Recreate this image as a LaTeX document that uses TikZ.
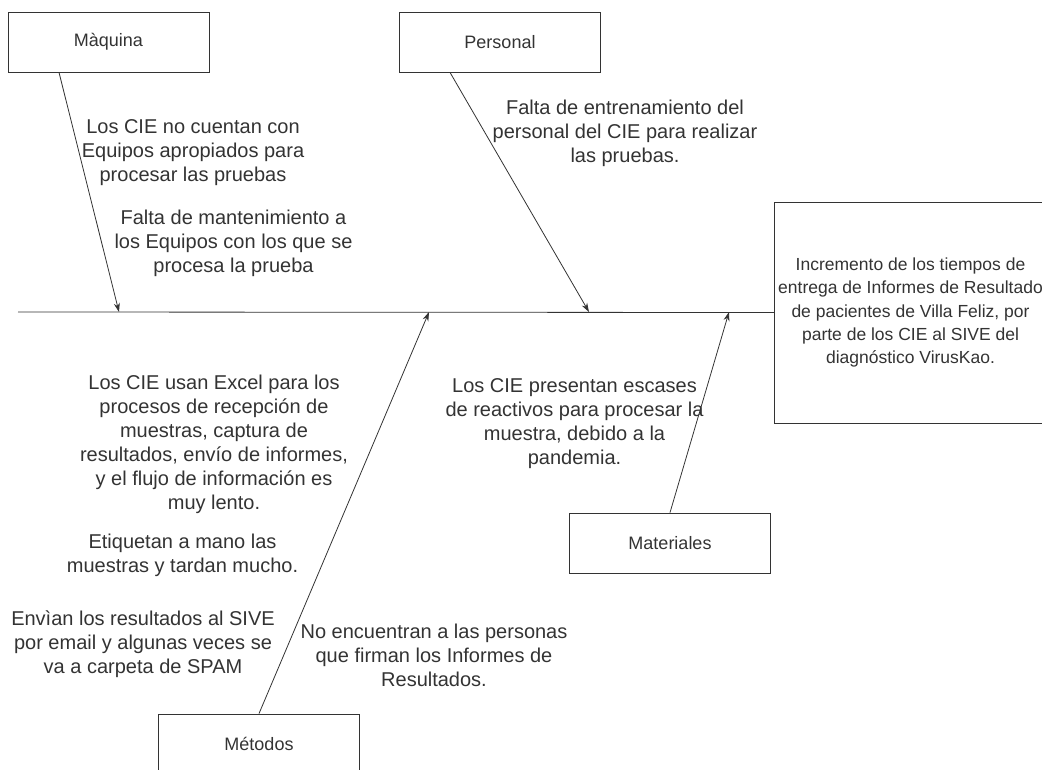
\documentclass[tikz,border=0pt]{standalone}
\usepackage{fontspec}
\setmainfont{Liberation Sans}
\usetikzlibrary{positioning, arrows.meta}

\begin{document}
\begin{tikzpicture}[x=1pt, y=-1pt]
    \tikzstyle{cat} = [rectangle, draw=black!80, line width=0.8pt, minimum width=201pt, minimum height=60pt, font=\fontsize{18}{21}\selectfont, text=black!80]
    \tikzstyle{effect} = [rectangle, draw=black!80, line width=0.8pt, minimum width=259pt, minimum height=221pt, align=center, font=\fontsize{17.5}{23.3}\selectfont, text=black!80]
    \tikzstyle{cause} = [align=center, inner sep=0pt, font=\fontsize{20}{24}\selectfont, text=black!80]
    \tikzstyle{arrow} = [line width=0.8pt, draw=black!80, -{Stealth[length=9pt,width=6pt]}]

    \clip (0,0) rectangle (1042,770);

    % effect and spine
    \node [effect] (effect) at (910.5,312.5) {Incremento de los tiempos de\\entrega de Informes de Resultado\\de pacientes de Villa Feliz, por\\parte de los CIE al SIVE del\\diagnóstico VirusKao.};
    \coordinate (spineStart) at (18,312);
    \draw [line width=0.8pt, draw=black!80] (spineStart) -- (effect.west);

    % categories
    \node [cat] (maq) at (108.5,42) {Màquina};
    \node [cat] (pers) at (500,42) {Personal};
    \node [cat] (met) at (259,744) {Métodos};
    \node [cat] (mat) at (670,543) {Materiales};

    \coordinate (maqTip) at (119,312);
    \coordinate (persTip) at (589,312);
    \coordinate (metTip) at (429,312);
    \coordinate (matTip) at (729,312);

    \draw [arrow] ([xshift=-49.5pt]maq.south) -- (maqTip);
    \draw [arrow] ([xshift=-50pt]pers.south) -- (persTip);
    \draw [arrow] (met.north) -- (metTip);
    \draw [arrow] (mat.north) -- (matTip);

    % causes
    \node [cause] (equipos) at (193,153) {Los CIE no cuentan con\\Equipos apropiados para\\procesar las pruebas};
    \node [cause] (mantenim) at (233.5,243) {Falta de mantenimiento a\\los Equipos con los que se\\procesa la prueba};
    \node [cause] (entrenam) at (625,133) {Falta de entrenamiento del\\personal del CIE para realizar\\las pruebas.};
    \node [cause] (excel) at (214,444) {Los CIE usan Excel para los\\procesos de recepción de\\muestras, captura de\\resultados, envío de informes,\\y el flujo de información es\\muy lento.};
    \node [cause] (etiquetan) at (182.5,555) {Etiquetan a mano las\\muestras y tardan mucho.};
    \node [cause] (email) at (143,644) {Envìan los resultados al SIVE\\por email y algunas veces se\\va a carpeta de SPAM};
    \node [cause] (firman) at (434,655) {No encuentran a las personas\\que firman los Informes de\\Resultados.};
    \node [cause] (reactivos) at (574.5,424) {Los CIE presentan escases\\de reactivos para procesar la\\muestra, debido a la\\pandemia.};
\end{tikzpicture}
\end{document}
